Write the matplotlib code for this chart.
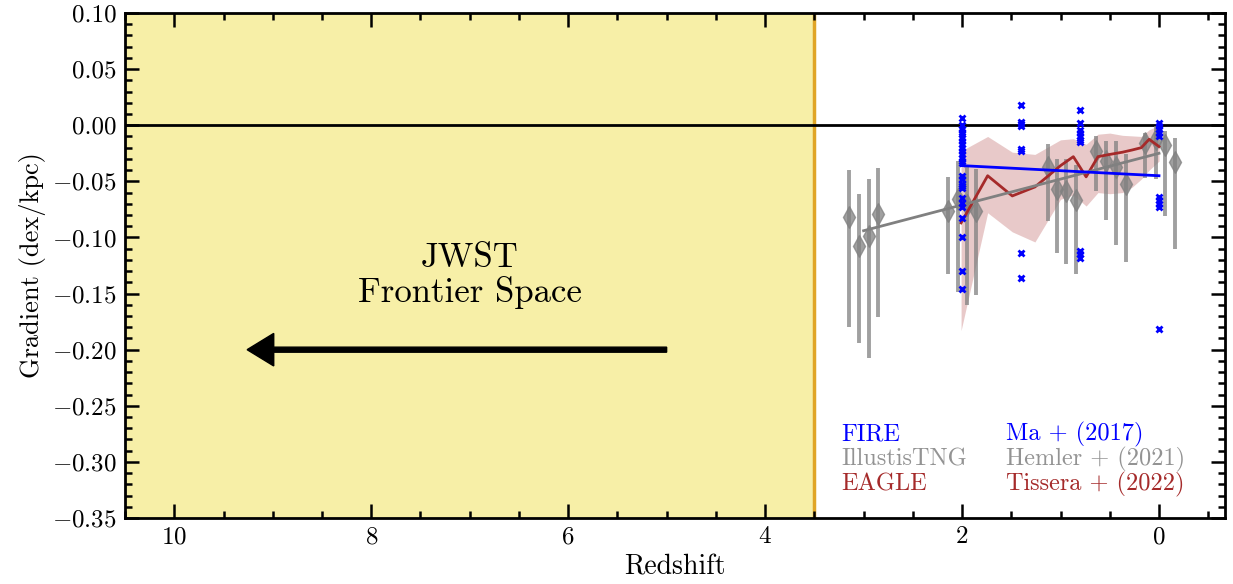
import numpy as np
import matplotlib
matplotlib.use("Agg")
import matplotlib.pyplot as plt
from matplotlib.ticker import MultipleLocator

plt.rcParams['font.family'] = 'serif'
plt.rcParams['font.serif'] = ['cmr10']
plt.rcParams['mathtext.fontset'] = 'cm'
plt.rcParams['axes.formatter.use_mathtext'] = True

# FIRE (Ma+2017): individual galaxies at a few redshifts
fire_z = [2.0] * 26 + [1.4] * 8 + [0.8] * 10 + [0.0] * 10
fire_grad = [0.0068, 0.0, -0.003, -0.0056, -0.008, -0.011, -0.014, -0.017, -0.020,
             -0.023, -0.026, -0.029, -0.032, -0.034, -0.045, -0.048, -0.052, -0.054,
             -0.056, -0.065, -0.069, -0.073, -0.083, -0.100, -0.130, -0.146,
             0.018, 0.003, 0.0015, -0.0006, -0.021, -0.023, -0.114, -0.136,
             0.014, 0.0024, -0.004, -0.007, -0.010, -0.013, -0.015, -0.112, -0.115, -0.118,
             0.002, -0.0006, -0.0036, -0.0065, -0.0095, -0.064, -0.067, -0.070, -0.073, -0.182]
fire_fit_z = [2.0, 0.0]
fire_fit_grad = [-0.036, -0.045]

# IllustrisTNG (Hemler+2021): medians with upper / lower ends of the error bars
tng_z = [3.15, 3.05, 2.95, 2.85, 2.14, 2.04, 1.95, 1.86, 1.13, 1.04, 0.94, 0.84,
         0.64, 0.54, 0.44, 0.34, 0.14, 0.03, -0.06, -0.16]
tng_grad = [-0.082, -0.108, -0.099, -0.079, -0.076, -0.066, -0.071, -0.076, -0.037, -0.057,
            -0.059, -0.067, -0.023, -0.032, -0.037, -0.052, -0.016, -0.0125, -0.018, -0.033]
tng_hi = [-0.040, -0.061, -0.048, -0.038, -0.046, -0.032, -0.037, -0.039, -0.017, -0.030,
          -0.030, -0.035, -0.010, -0.014, -0.014, -0.026, -0.007, -0.001, -0.005, -0.011]
tng_lo = [-0.180, -0.194, -0.207, -0.171, -0.133, -0.149, -0.160, -0.151, -0.085, -0.114,
          -0.124, -0.133, -0.059, -0.084, -0.107, -0.122, -0.047, -0.048, -0.081, -0.110]
tng_fit_z = [3.0, 0.0]
tng_fit_grad = [-0.094, -0.025]

# EAGLE (Tissera+2022): median and scatter band
eagle_z = [2.01, 1.74, 1.49, 1.26, 1.00, 0.87, 0.74, 0.62, 0.50, 0.37, 0.27, 0.18, 0.10, 0.0]
eagle_grad = [-0.087, -0.045, -0.063, -0.055, -0.036, -0.028, -0.046, -0.028, -0.026,
              -0.024, -0.022, -0.020, -0.0125, -0.019]
eagle_hi = [-0.023, -0.010, -0.024, -0.026, -0.013, -0.012, -0.017, -0.008, -0.007,
            -0.009, -0.0095, -0.010, -0.004, 0.0]
eagle_lo = [-0.183, -0.078, -0.095, -0.104, -0.066, -0.062, -0.072, -0.060, -0.061,
            -0.060, -0.055, -0.048, -0.040, -0.032]

jwst_z = [10.5, 3.5]

fig, ax = plt.subplots(figsize=(12.33, 5.84), dpi=100)
fig.subplots_adjust(left=0.1014, right=0.9935, bottom=0.113, top=0.9777)

ax.axvspan(jwst_z[0], jwst_z[1], color='#F7EFA7', lw=0, zorder=0)
ax.axvline(jwst_z[1], color='#E0A526', lw=2.5, zorder=1)
ax.axhline(0, color='k', lw=2, zorder=1)

ax.fill_between(eagle_z, eagle_lo, eagle_hi, color='brown', alpha=0.25, lw=0, zorder=2)

tng_err = [np.array(tng_grad) - np.array(tng_lo), np.array(tng_hi) - np.array(tng_grad)]
ax.errorbar(tng_z, tng_grad, yerr=tng_err, fmt='d', color='gray', ecolor='gray',
            ms=11, elinewidth=2.8, alpha=0.75, zorder=3)

ax.plot(eagle_z, eagle_grad, color='brown', lw=2, zorder=4)
ax.plot(tng_fit_z, tng_fit_grad, color='gray', lw=2, zorder=5)
ax.plot(fire_fit_z, fire_fit_grad, color='blue', lw=2, zorder=5)
ax.plot(fire_z, fire_grad, 'x', color='blue', ms=4.5, mew=2, zorder=6)

ax.arrow(5, -0.2, 4.26, 0, width=0.0045, head_width=0.029, head_length=0.27,
         length_includes_head=True, color='k', zorder=6)
ax.text(7.0, -0.134, 'JWST\nFrontier Space', fontsize=25, ha='center', va='center',
        linespacing=1.1)

labels = [('FIRE', 'Ma + (2017)', 'blue'),
          ('IllustisTNG', 'Hemler + (2021)', 'gray'),
          ('EAGLE', 'Tissera + (2022)', 'brown')]
for i, (sim, ref, col) in enumerate(labels):
    yy = -0.2754 - 0.0223 * i
    ax.text(3.23, yy, sim, color=col, fontsize=17.5, ha='left', va='center',
            alpha=0.85 if col == 'gray' else 1)
    ax.text(1.55, yy, ref, color=col, fontsize=17.5, ha='left', va='center',
            alpha=0.85 if col == 'gray' else 1)

ax.set_xlim(10.5, -0.67)
ax.set_ylim(-0.35, 0.10)
ax.xaxis.set_major_locator(MultipleLocator(2))
ax.xaxis.set_minor_locator(MultipleLocator(0.5))
ax.yaxis.set_major_locator(MultipleLocator(0.05))
ax.yaxis.set_minor_locator(MultipleLocator(0.01))
ax.yaxis.set_major_formatter(matplotlib.ticker.FuncFormatter(
    lambda v, p: ('$-$' if v < -1e-9 else '') + f'{abs(v):.2f}'))
ax.tick_params(which='both', direction='in', top=True, right=True, labelsize=18, width=1.8)
ax.tick_params(which='major', length=10, pad=6)
ax.tick_params(which='minor', length=5)
for s in ax.spines.values():
    s.set_linewidth(2)

ax.set_xlabel('Redshift', fontsize=20)
ax.set_ylabel('Gradient (dex/kpc)', fontsize=19)

fig.savefig('out.png', dpi=100)
